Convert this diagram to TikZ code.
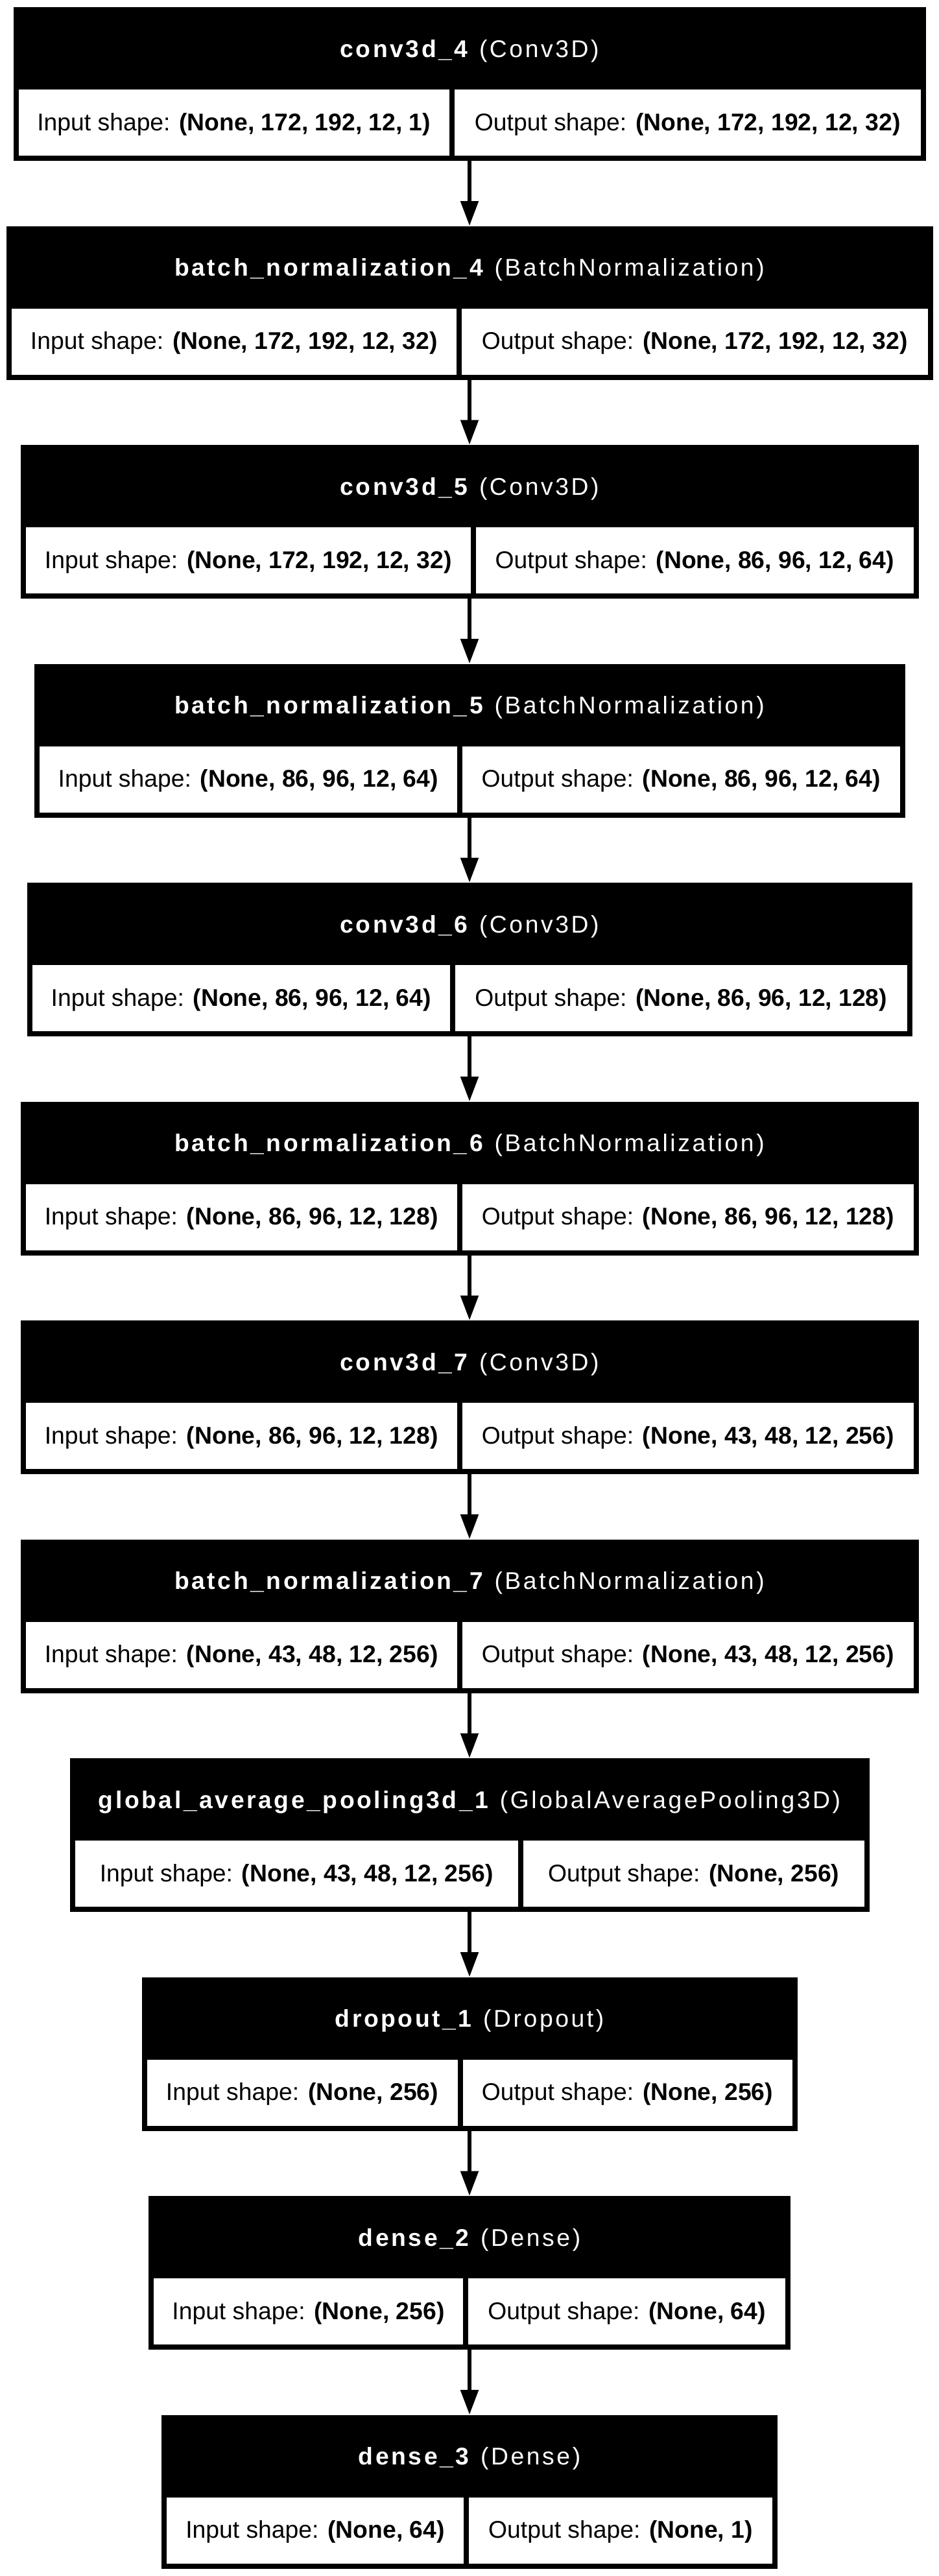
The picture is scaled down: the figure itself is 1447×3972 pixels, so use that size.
\documentclass[tikz,border=0pt]{standalone}
\usepackage{fontspec}
\setmainfont{Liberation Sans}
\newfontfamily\hdrfont[LetterSpace=9.6]{Liberation Sans}
\usetikzlibrary{arrows.meta}
\tikzset{
  blockbox/.style={rectangle, fill=black, draw=none, inner sep=0pt, minimum height=118.5pt},
  celltxt/.style={rectangle, fill=white, draw=none, inner sep=0pt, minimum height=51pt,
    text height=14pt, text depth=2pt, font=\fontsize{18.65pt}{22pt}\selectfont},
  hdrtxt/.style={anchor=base, inner sep=0pt, text=white, font=\hdrfont\fontsize{18.65pt}{22pt}\selectfont},
  flow/.style={draw=black, line width=2.6pt, -{Triangle[length=19pt,width=13.5pt]}},
}
% name, top, width(px), divider x, header, input, output
\newcommand{\nnlayer}[7]{%
  \pgfmathsetmacro{\nnL}{724-#3/2}%
  \pgfmathsetmacro{\nnR}{724+#3/2}%
  \pgfmathsetmacro{\nnW}{#3*0.5}%
  \pgfmathsetmacro{\nnCy}{#2+118.5}%
  \pgfmathsetmacro{\nnHy}{#2+77}%
  \pgfmathsetmacro{\nnTy}{#2+178}%
  \pgfmathsetmacro{\nnLw}{(#4-\nnL-12)*0.5}%
  \pgfmathsetmacro{\nnLx}{(\nnL+#4+4)/2}%
  \pgfmathsetmacro{\nnRw}{(\nnR-#4-12)*0.5}%
  \pgfmathsetmacro{\nnRx}{(#4+\nnR-4)/2}%
  \node[blockbox, minimum width=\nnW pt] (#1) at (724,\nnCy) {};
  \node[hdrtxt] (#1h) at (724,\nnHy) {#5};
  \node[celltxt, minimum width=\nnLw pt] (#1i) at (\nnLx,\nnTy) {Input shape: \textbf{#6}};
  \node[celltxt, minimum width=\nnRw pt] (#1o) at (\nnRx,\nnTy) {Output shape: \textbf{#7}};
}
\begin{document}
\begin{tikzpicture}[x=0.5pt,y=-0.5pt]
\fill[white] (0,0) rectangle (1447,3972);
\useasboundingbox (0,0) rectangle (1447,3972);
\nnlayer{b1}{11}{1407}{697}{\textbf{conv3d\_4} (Conv3D)}{(None, 172, 192, 12, 1)}{(None, 172, 192, 12, 32)}
\nnlayer{b2}{348.5}{1429}{708}{\textbf{batch\_normalization\_4} (BatchNormalization)}{(None, 172, 192, 12, 32)}{(None, 172, 192, 12, 32)}
\nnlayer{b3}{686}{1385}{730}{\textbf{conv3d\_5} (Conv3D)}{(None, 172, 192, 12, 32)}{(None, 86, 96, 12, 64)}
\nnlayer{b4}{1023.5}{1343}{709}{\textbf{batch\_normalization\_5} (BatchNormalization)}{(None, 86, 96, 12, 64)}{(None, 86, 96, 12, 64)}
\nnlayer{b5}{1361}{1365}{698}{\textbf{conv3d\_6} (Conv3D)}{(None, 86, 96, 12, 64)}{(None, 86, 96, 12, 128)}
\nnlayer{b6}{1698.5}{1385}{709}{\textbf{batch\_normalization\_6} (BatchNormalization)}{(None, 86, 96, 12, 128)}{(None, 86, 96, 12, 128)}
\nnlayer{b7}{2036}{1385}{709}{\textbf{conv3d\_7} (Conv3D)}{(None, 86, 96, 12, 128)}{(None, 43, 48, 12, 256)}
\nnlayer{b8}{2373.5}{1385}{709}{\textbf{batch\_normalization\_7} (BatchNormalization)}{(None, 43, 48, 12, 256)}{(None, 43, 48, 12, 256)}
\nnlayer{b9}{2711}{1233}{803}{\textbf{global\_average\_pooling3d\_1} (GlobalAveragePooling3D)}{(None, 43, 48, 12, 256)}{(None, 256)}
\nnlayer{b10}{3048.5}{1011}{709.5}{\textbf{dropout\_1} (Dropout)}{(None, 256)}{(None, 256)}
\nnlayer{b11}{3386}{990}{718}{\textbf{dense\_2} (Dense)}{(None, 256)}{(None, 64)}
\nnlayer{b12}{3723.5}{950}{719}{\textbf{dense\_3} (Dense)}{(None, 64)}{(None, 1)}
\foreach \a/\b in {b1/b2,b2/b3,b3/b4,b4/b5,b5/b6,b6/b7,b7/b8,b8/b9,b9/b10,b10/b11,b11/b12}
  \draw[flow] (\a.south) -- (\b.north);
\end{tikzpicture}
\end{document}
